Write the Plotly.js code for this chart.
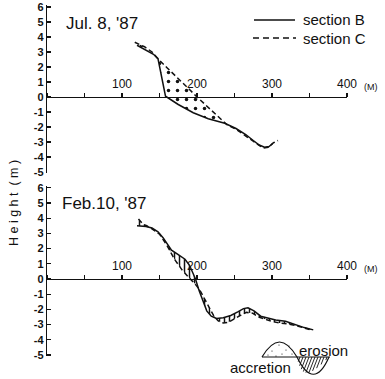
<!DOCTYPE html>
<html>
<head>
<meta charset="utf-8">
<script src="https://cdn.plot.ly/plotly-3.0.1.min.js"></script>
<style>html,body{margin:0;padding:0;background:#fff;}#chart{width:385px;height:379px;}</style>
</head>
<body>
<div id="chart"></div>
<script>
// ---- data (distance in m, height in m) ----
const julB_x = [120, 132, 142, 148, 153, 158, 175, 195, 215, 237, 252, 265, 275, 283, 290, 296, 301];
const julB_y = [3.45, 3.15, 2.85, 2.55, 1.3, 0.05, -0.5, -1.05, -1.45, -1.75, -2.1, -2.5, -2.9, -3.2, -3.35, -3.3, -3.1];
const julC_x = [117, 130, 140, 147, 160, 175, 190, 200, 215, 230, 240, 252, 262, 272, 280, 288, 295, 302, 308];
const julC_y = [3.65, 3.35, 3.0, 2.6, 1.95, 1.25, 0.5, 0.0, -0.7, -1.4, -1.85, -2.15, -2.5, -2.85, -3.15, -3.4, -3.35, -3.05, -2.9];

const febB_x = [120, 132, 140, 148, 155, 161, 166, 175, 184, 190, 195, 198, 203, 208, 213, 219, 226, 235, 245, 255, 262, 268, 276, 285, 295, 305, 318, 330, 343, 355];
const febB_y = [3.5, 3.45, 3.35, 3.1, 2.7, 2.25, 1.9, 1.6, 1.3, 0.9, 0.35, 0.0, -0.8, -1.5, -2.1, -2.45, -2.6, -2.55, -2.4, -2.15, -1.95, -1.9, -2.1, -2.45, -2.6, -2.7, -2.78, -3.0, -3.2, -3.35];
const febC_x = [122, 128, 133, 140, 150, 160, 170, 180, 190, 197, 204, 210, 216, 222, 228, 235, 242, 250, 258, 266, 274, 282, 290, 300, 310, 320, 330, 340, 350];
const febC_y = [3.95, 3.6, 3.5, 3.3, 2.95, 2.2, 1.3, 0.6, 0.05, -0.3, -0.75, -1.3, -1.9, -2.4, -2.75, -2.9, -2.85, -2.6, -2.4, -2.2, -2.25, -2.5, -2.65, -2.8, -2.9, -2.95, -3.05, -3.2, -3.32];

const xTickVals = [100, 200, 300, 400];
const xTickText = ['100', '200', '300', '400'];
const yTickVals = [-5, -4, -3, -2, -1, 0, 1, 2, 3, 4, 5, 6];
const yTickText = ['-5', '-4', '-3', '-2', '-1', '0', '1', '2', '3', '4', '5', '6'];
const panelTitles = ["Jul. 8, '87", "Feb.10, '87"];
const seriesNames = ['section B', 'section C'];
const legendKey = ['erosion', 'accretion'];

// ---- layout geometry ----
const W = 385, H = 379;
const M = {l: 47, r: 38, t: 5, b: 23};
const pw = W - M.l - M.r, ph = H - M.t - M.b;
const px2x = p => (p - M.l) / pw;
const px2y = p => (H - M.b - p) / ph;

const topRange = [-5.05, 6.133], topDom = [0.5221, 1];
const botRange = [-5.07, 6.1], botDom = [0, 0.4835];
const zeroPos = (r, d) => d[0] + (0 - r[0]) / (r[1] - r[0]) * (d[1] - d[0]);

const FONT = 'Liberation Sans, Arial, sans-serif';
const BLACK = '#111';

const lineB = {color: BLACK, width: 1.5};
const lineC = {color: BLACK, width: 1.5, dash: '5px,3px'};

const traces = [
  {x: julC_x, y: julC_y, xaxis: 'x', yaxis: 'y', mode: 'lines', line: lineC, name: seriesNames[1], showlegend: false},
  {x: julB_x, y: julB_y, xaxis: 'x', yaxis: 'y', mode: 'lines', line: lineB, name: seriesNames[0], showlegend: false,
   fill: 'tonexty', fillcolor: 'rgba(255,255,255,0)',
   fillpattern: {shape: '.', fgcolor: BLACK, bgcolor: 'rgba(255,255,255,0)', size: 9, solidity: 0.12}},
  {x: febB_x, y: febB_y, xaxis: 'x2', yaxis: 'y2', mode: 'lines', line: lineB, name: seriesNames[0], showlegend: false},
  {x: febC_x, y: febC_y, xaxis: 'x2', yaxis: 'y2', mode: 'lines', line: lineC, name: seriesNames[1], showlegend: false,
   fill: 'tonexty', fillcolor: 'rgba(255,255,255,0)',
   fillpattern: {shape: '|', fgcolor: BLACK, bgcolor: 'rgba(255,255,255,0)', size: 5, solidity: 0.3}}
];

function xAxis(r, d) {
  return {
    domain: [0, 1], range: [0, 400], anchor: 'free', position: zeroPos(r, d), side: 'top',
    showline: true, linecolor: BLACK, linewidth: 1.2, showgrid: false, zeroline: false,
    tickmode: 'array', tickvals: xTickVals, ticktext: xTickText,
    ticks: 'outside', ticklen: 4, tickcolor: BLACK, tickwidth: 1.2,
    minor: {dtick: 50, tick0: 0, ticks: 'outside', ticklen: 4, tickcolor: BLACK, tickwidth: 1.2},
    tickfont: {family: FONT, size: 12, color: BLACK}, fixedrange: true
  };
}
function yAxis(r, d, anchor) {
  return {
    domain: d, range: r, anchor: anchor,
    showline: true, linecolor: BLACK, linewidth: 1.3, showgrid: false, zeroline: false,
    tickmode: 'array', tickvals: yTickVals, ticktext: yTickText,
    ticks: 'inside', ticklen: 4, tickcolor: BLACK, tickwidth: 1.2,
    tickfont: {family: FONT, size: 11, color: BLACK, weight: 'bold'}, fixedrange: true
  };
}

// legend key glyph (erosion / accretion), drawn in pixel space then converted to paper
function pathPx(cmds) {
  return cmds.map(c => typeof c === 'string' ? c : (px2x(c[0]).toFixed(4) + ',' + px2y(c[1]).toFixed(4))).join(' ');
}
const baseY = 357;
const legY = [20, 38];
const shapes = [
  // legend samples for sections
  {type: 'line', xref: 'paper', yref: 'paper', x0: px2x(254), x1: px2x(295), y0: px2y(legY[0]), y1: px2y(legY[0]), line: {color: BLACK, width: 1.6}},
  {type: 'line', xref: 'paper', yref: 'paper', x0: px2x(253), x1: px2x(296), y0: px2y(legY[1]), y1: px2y(legY[1]), line: {color: BLACK, width: 1.6, dash: '6px,4px'}},
  // glyph baseline
  {type: 'line', xref: 'paper', yref: 'paper', x0: px2x(262), x1: px2x(330), y0: px2y(baseY), y1: px2y(baseY), line: {color: BLACK, width: 1}},
  // hump + trough curve
  {type: 'path', xref: 'paper', yref: 'paper', line: {color: BLACK, width: 1.2},
   path: pathPx(['M', [262, baseY], 'C', [274, 337], [285, 337], [297, baseY], 'C', [308, 380], [319, 380], [329, baseY]])}
];
// dots inside hump
const dotPts = [[272, 351], [279, 345], [286, 350], [292, 354], [268, 355], [282, 354], [276, 356], [289, 346]];
dotPts.forEach(p => shapes.push({type: 'circle', xref: 'paper', yref: 'paper',
  x0: px2x(p[0] - 0.6), x1: px2x(p[0] + 0.6), y0: px2y(p[1] + 0.6), y1: px2y(p[1] - 0.6),
  fillcolor: BLACK, line: {width: 0}}));
// hatching inside trough
let hatch = [];
for (let xs = 300; xs <= 327; xs += 3) {
  const t = (xs - 297) / 32;
  const depth = 17.5 * Math.sin(Math.PI * Math.min(Math.max(t, 0), 1));
  hatch.push('M', [xs, baseY], 'L', [xs - depth * 0.35, baseY + depth * 0.9]);
}
shapes.push({type: 'path', xref: 'paper', yref: 'paper', line: {color: BLACK, width: 0.9}, path: pathPx(hatch)});

const ann = (txt, xpx, ypx, size, extra) => Object.assign({
  text: txt, xref: 'paper', yref: 'paper', x: px2x(xpx), y: px2y(ypx), showarrow: false,
  xanchor: 'left', yanchor: 'middle', font: {family: FONT, size: size, color: BLACK}
}, extra || {});

const annotations = [
  ann(panelTitles[0], 64, 23, 17),
  ann(panelTitles[1], 60, 203, 17),
  ann(seriesNames[0], 301, legY[0], 15),
  ann(seriesNames[1], 301, legY[1], 15),
  ann(legendKey[0], 297, 350, 15),
  ann(legendKey[1], 228, 367, 15),
  ann('H e i g h t  ( m )', 14, 203, 12.5, {xanchor: 'center', textangle: -90}),
  {text: '(M)', xref: 'x', yref: 'y', x: 400, y: 0, xshift: 24, yshift: 10, showarrow: false,
   font: {family: FONT, size: 9, color: BLACK}},
  {text: '(M)', xref: 'x2', yref: 'y2', x: 400, y: 0, xshift: 24, yshift: 10, showarrow: false,
   font: {family: FONT, size: 9, color: BLACK}}
];

const layout = {
  width: W, height: H, margin: M,
  paper_bgcolor: '#fff', plot_bgcolor: 'rgba(0,0,0,0)',
  showlegend: false,
  xaxis: xAxis(topRange, topDom),
  yaxis: yAxis(topRange, topDom, 'x'),
  xaxis2: xAxis(botRange, botDom),
  yaxis2: yAxis(botRange, botDom, 'x2'),
  shapes: shapes, annotations: annotations,
  font: {family: FONT, color: BLACK}
};

Plotly.newPlot('chart', traces, layout, {staticPlot: true, displayModeBar: false});
</script>
</body>
</html>
